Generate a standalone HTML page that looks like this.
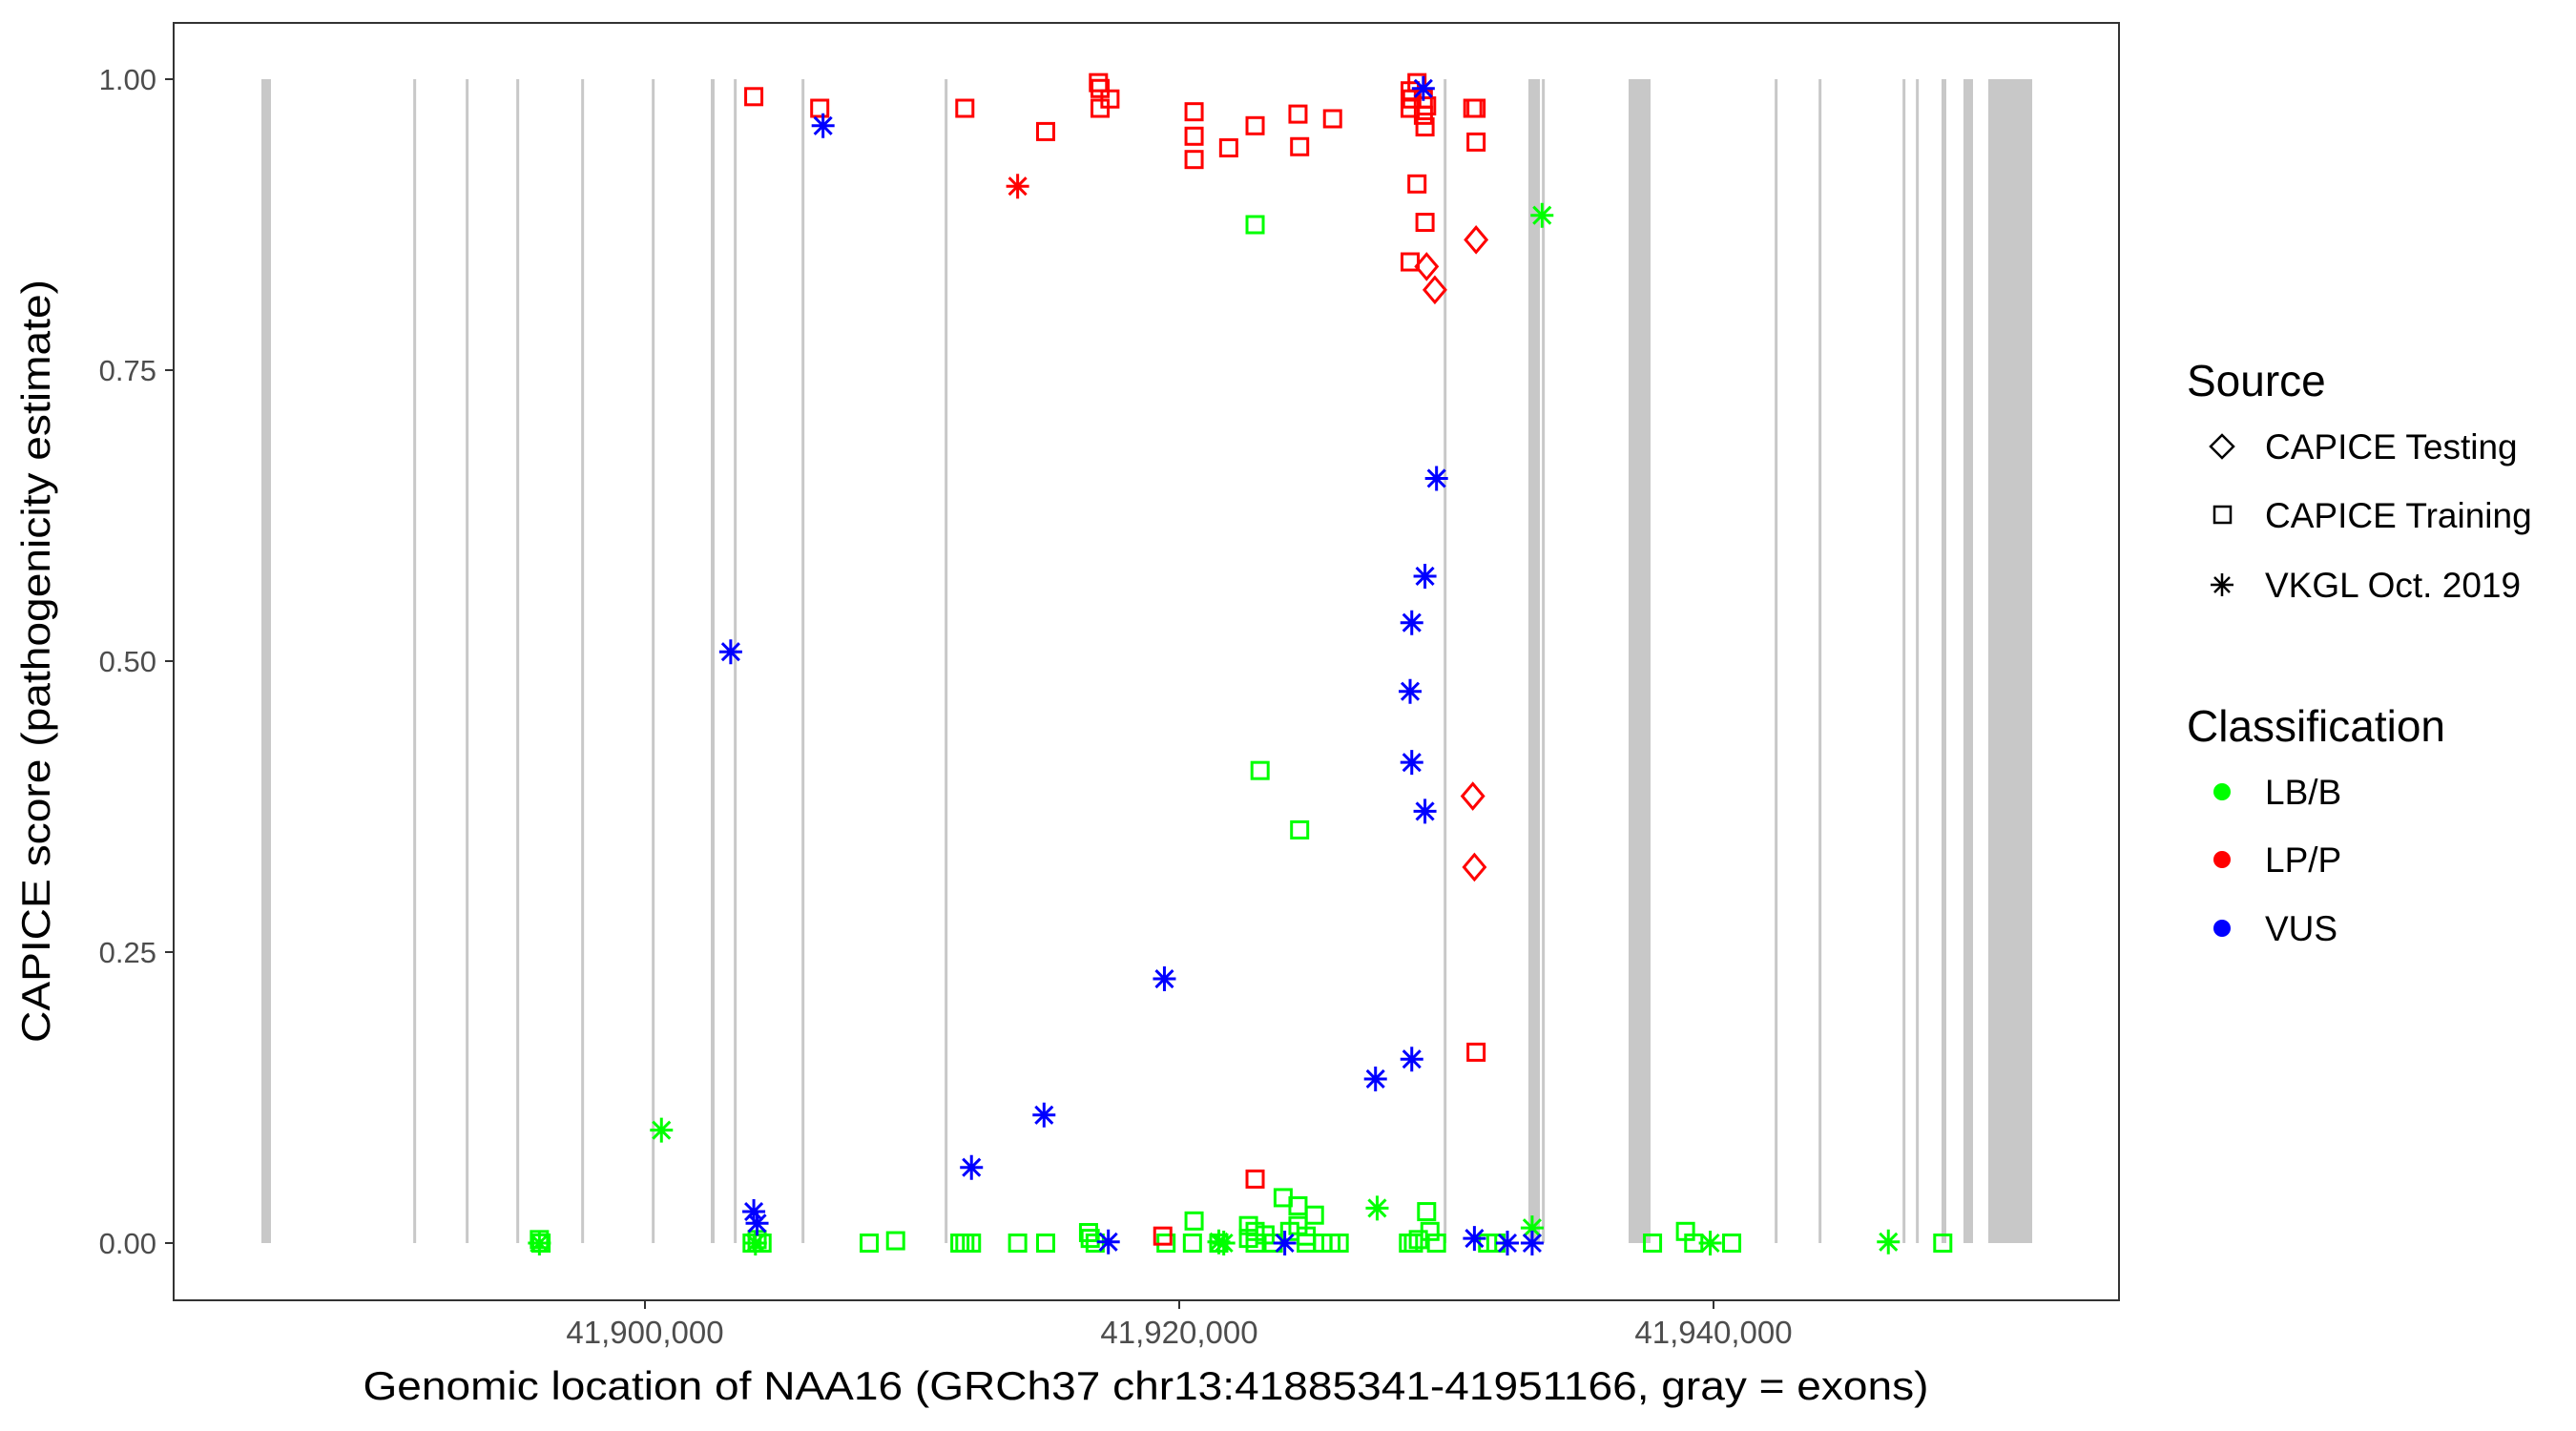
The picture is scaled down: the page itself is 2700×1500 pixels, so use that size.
<!DOCTYPE html>
<html><head><meta charset="utf-8"><style>
html,body{margin:0;padding:0;background:#fff;}
svg{display:block;font-family:"Liberation Sans",sans-serif;}
</style></head><body>
<svg id="chart" width="2700" height="1500" viewBox="0 0 2700 1500" xmlns="http://www.w3.org/2000/svg">
<rect x="0" y="0" width="2700" height="1500" fill="#fff"/>
<g id="exons"></g>
<g id="points"></g>
<rect x="182" y="24" width="2039" height="1339" fill="none" stroke="#333" stroke-width="2"/>
<g id="axes"></g>
<text x="1201" y="1467" text-anchor="middle" font-size="42" fill="#000" textLength="1641" lengthAdjust="spacingAndGlyphs">Genomic location of NAA16 (GRCh37 chr13:41885341-41951166, gray = exons)</text>
<text transform="translate(52,693) rotate(-90)" text-anchor="middle" font-size="42" fill="#000" textLength="800" lengthAdjust="spacingAndGlyphs">CAPICE score (pathogenicity estimate)</text>
<g>
<text x="2292" y="415" font-size="46" fill="#000">Source</text>
<g>
<path d="M2329 456 l12 12 l-12 12 l-12 -12 z" fill="none" stroke="#000" stroke-width="2.5"/>
<text x="2374" y="481" font-size="37" fill="#000">CAPICE Testing</text></g>
<g>
<rect x="2321" y="531" width="17" height="17" fill="none" stroke="#000" stroke-width="2.5"/>
<text x="2374" y="553" font-size="37" fill="#000">CAPICE Training</text></g>
<g>
<path d="M2329 601 v24 M2317 613 h24 M2321 605 l16 16 M2337 605 l-16 16" stroke="#000" stroke-width="2.5"/>
<text x="2374" y="626" font-size="37" fill="#000">VKGL Oct. 2019</text></g>
<text x="2292" y="777" font-size="46" fill="#000">Classification</text>
<g><circle cx="2329" cy="830" r="9" fill="#00ff00"/><text x="2374" y="843" font-size="37" fill="#000">LB/B</text></g>
<g><circle cx="2329" cy="901" r="9" fill="#ff0000"/><text x="2374" y="914" font-size="37" fill="#000">LP/P</text></g>
<g><circle cx="2329" cy="973" r="9" fill="#0000ff"/><text x="2374" y="986" font-size="37" fill="#000">VUS</text></g>
</g>
</svg>
<script>
const BASE = 41900000;
// exons [start, end] in bp
const exonStarts = [41885643,41891327,41893291,41895184,41897613,41900256,41902464,41903327,41905863,41911220,41929899,41933071,41933577,41936821,41942291,41943934,41947077,41947577,41948536,41949357,41950286];
const exonEnds   = [41886000,41891387,41893351,41895244,41897673,41900316,41902607,41903387,41905923,41911280,41929959,41933500,41933637,41937643,41942351,41943994,41947137,41947637,41948714,41949714,41951929];
// points: offset from 41,900,000 in bp, score
const trainLPPos = [4074,6543,11975,15000,16975,17037,17407,17037,20556,20556,20556,21852,22840,24445,24507,25741,28643,28705,28643,28900,29140,29200,28900,29200,28643,29137,29260,30989,31112,31112,31112,22840,19384];
const trainLPScore = [0.985,0.975,0.975,0.955,0.997,0.992,0.983,0.975,0.972,0.951,0.931,0.941,0.960,0.970,0.942,0.966,0.990,0.983,0.975,0.997,0.969,0.959,0.910,0.877,0.843,0.983,0.977,0.975,0.975,0.946,0.164,0.055,0.006];
const testLPPos = [29260,29569,31112,30989,31050];
const testLPScore = [0.839,0.819,0.862,0.384,0.323];
const vkglLPPos = [13951];
const vkglLPScore = [0.908];
const vkglVUSPos = [6667,3210,4074,4198,12223,14939,19445,17346,23951,27347,28705,29199,28705,28643,28705,29199,29631,29137,31050,32285,33211];
const vkglVUSScore = [0.960,0.508,0.027,0.017,0.065,0.110,0.227,0.001,0.0,0.141,0.158,0.371,0.413,0.474,0.533,0.573,0.657,0.992,0.004,0.0,0.0];
const vkglLBPos = [617,-3951,4136,21667,21482,27409,33581,33211,39878,46545];
const vkglLBScore = [0.097,0.0,0.0,0.0,0.001,0.030,0.883,0.013,0.0,0.001];
const trainLBPos = [-3951,-3889,4012,4198,4383,8395,9383,11790,11976,12223,13951,15000,16605,16667,16852,19507,20556,20494,21482,22840,23025,24507,22593,22840,22840,22593,23210,23519,23889,24445,25062,24445,24136,24754,25371,25680,25988,24754,28581,28766,28951,29260,29384,29631,31544,31852,37717,38951,39260,40680,48582];
const trainLBScore = [0.003,0.0,0.0,0.003,0.0,0.0,0.002,0,0,0,0,0,0.009,0.004,0,0,0.019,0,0,0.875,0.406,0.355,0.015,0.01,0.0,0.004,0.007,0.0,0.039,0.032,0.024,0.015,0.01,0.006,0,0,0,0,0,0,0.003,0.027,0.01,0,0,0,0,0.01,0,0,0];
const xTicks = [41900000,41920000,41940000];
const xTickLabels = ["41,900,000","41,920,000","41,940,000"];
const yTicks = [0,0.25,0.5,0.75,1];
const yTickLabels = ["0.00","0.25","0.50","0.75","1.00"];

const NS = "http://www.w3.org/2000/svg";
function xScale(bp){ return 676 + (bp - BASE) * 0.028; }
function yScale(v){ return 1303 - v * 1220; }
function mk(tag, attrs, parent){ const e=document.createElementNS(NS,tag); for(const k in attrs) e.setAttribute(k,attrs[k]); parent.appendChild(e); return e; }

const ex = document.getElementById('exons');
for(let i=0;i<exonStarts.length;i++){
  const x0=xScale(exonStarts[i]), x1=xScale(exonEnds[i]);
  const w=Math.max(3, x1-x0);
  const r=mk('rect',{x:x0,y:yScale(1),width:w,height:yScale(0)-yScale(1),fill:'#c8c8c8'},ex);
  
  
}

const pts = document.getElementById('points');
function square(x,y,c){ const e=mk('rect',{x:x-8.5,y:y-8.5,width:17,height:17,fill:'none',stroke:c,'stroke-width':3},pts);
  
   }
function diamond(x,y,c){ const e=mk('path',{d:`M${x} ${y-13} l11 13 l-11 13 l-11 -13 z`,fill:'none',stroke:c,'stroke-width':3},pts);
  
   }
function star(x,y,c){ const e=mk('path',{d:`M${x} ${y-13} v26 M${x-12} ${y} h24 M${x-9} ${y-9} l18 18 M${x+9} ${y-9} l-18 18`,stroke:c,'stroke-width':3,fill:'none'},pts);
  
   }
function draw(pos,score,fn,c){ for(let i=0;i<pos.length;i++) fn(xScale(BASE+pos[i]), yScale(score[i]), c); }
draw(trainLBPos,trainLBScore,square,'#00ff00');
draw(vkglLBPos,vkglLBScore,star,'#00ff00');
draw(trainLPPos,trainLPScore,square,'#ff0000');
draw(testLPPos,testLPScore,diamond,'#ff0000');
draw(vkglLPPos,vkglLPScore,star,'#ff0000');
draw(vkglVUSPos,vkglVUSScore,star,'#0000ff');

const ax = document.getElementById('axes');
for(let i=0;i<xTicks.length;i++){
  const x=xScale(xTicks[i]);
  const t=mk('line',{x1:x,x2:x,y1:1363,y2:1372,stroke:'#333','stroke-width':2},ax);
  
  
  const l=mk('text',{x:x,y:1408,'text-anchor':'middle','font-size':33,fill:'#4d4d4d'},ax);
  l.textContent=xTickLabels[i];
  
  
}
for(let i=0;i<yTicks.length;i++){
  const y=yScale(yTicks[i]);
  const t=mk('line',{x1:173,x2:182,y1:y,y2:y,stroke:'#333','stroke-width':2},ax);
  
  
  const l=mk('text',{x:164,y:y+11,'text-anchor':'end','font-size':31,fill:'#4d4d4d'},ax);
  l.textContent=yTickLabels[i];
  
  
}
</script>
</body></html>
